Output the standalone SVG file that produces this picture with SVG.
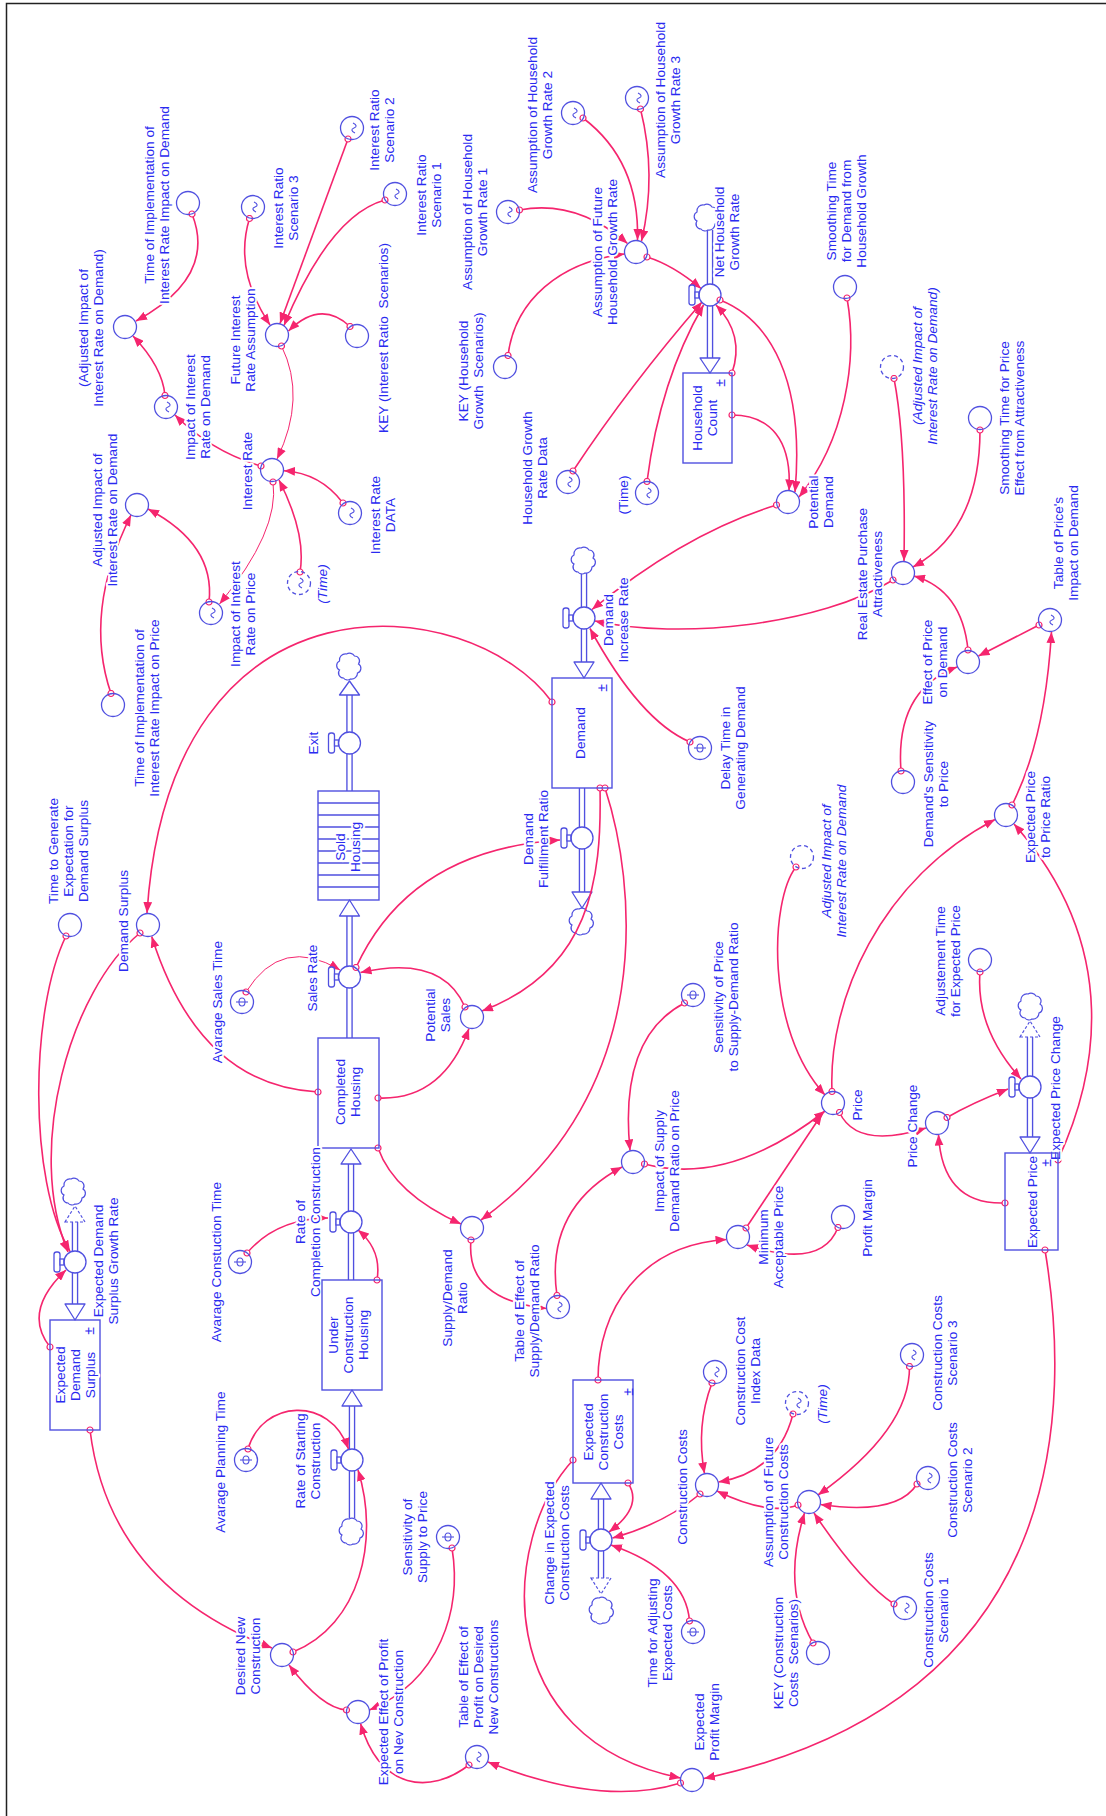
<svg xmlns="http://www.w3.org/2000/svg" xmlns:xlink="http://www.w3.org/1999/xlink" width="1106" height="1816" viewBox="0 0 1106 1816">
<style>
.c{fill:none;stroke:#f5256e;stroke-width:1.6;marker-start:url(#tl);marker-end:url(#ah)}
.th{stroke-width:1}
.n{fill:none;stroke:#5050e0;stroke-width:1.3}
.d{stroke-dasharray:4 3}
.s{fill:none;stroke:#5050e0;stroke-width:1.4}
.po{fill:none;stroke:#5050e0;stroke-width:6.5}
.pi{fill:none;stroke:#fff;stroke-width:3.8}
.fa{fill:#fff;stroke:#5050e0;stroke-width:1.3;stroke-linejoin:round}
.fd{fill:#fff;stroke:#5050e0;stroke-width:1.2;stroke-dasharray:3 2}
.cl{fill:#fff;stroke:#5050e0;stroke-width:1.2}
.ic{fill:none;stroke:#5050e0;stroke-width:1.1}
.hd{fill:#fff;stroke:#5050e0;stroke-width:1.3}
.t{font-family:"Liberation Sans",Arial,sans-serif;font-size:13.7px;fill:#2a2af0;text-anchor:middle;dominant-baseline:central;paint-order:stroke;stroke:#fff;stroke-width:4px;stroke-linejoin:round}
.i{font-style:italic}
.pm{font-family:"Liberation Sans",Arial,sans-serif;font-size:14px;fill:#2a2af0;text-anchor:middle;dominant-baseline:central}
</style>
<defs>
<marker id="ah" viewBox="0 0 10 8" refX="10" refY="4" markerWidth="11" markerHeight="9" markerUnits="userSpaceOnUse" orient="auto"><path d="M0,0L10,4L0,8z" fill="#f5256e"/></marker>
<marker id="tl" viewBox="-4 -4 8 8" refX="0" refY="0" markerWidth="8" markerHeight="8" markerUnits="userSpaceOnUse"><circle r="3" fill="#fff" stroke="#f5256e" stroke-width="1.2"/></marker>
<path id="cloud" d="M-6,12a5,5 0 0 1-4,-8a5,5 0 0 1 0,-9a6,6 0 0 1 7,-7a6,6 0 0 1 8,2a5,5 0 0 1 4,8a5,5 0 0 1-1,9a6,6 0 0 1-7,6a5,5 0 0 1-7,-1z"/>
<path id="lk" d="M1,5C-3,3 -3,1 0,0C3,-1 3,-3 -1,-5"/>
<g id="ph"><ellipse rx="3" ry="4"/><path d="M-6,0H6"/></g>
</defs>
<rect width="1106" height="1816" fill="#fff"/>
<path d="M6.5,1816V3.5H1106" fill="none" stroke="#222" stroke-width="1.5"/>

<g id="flows">
<path class="po" d="M710,230V284M710,306V358M349.5,695V732M349.5,754V791M349.5,916V966M349.5,988V1038M351,1164V1211M351,1233V1280M352,1406V1449M352,1471V1518M584,573V607M584,629V662M582,788V827M582,849V892M75,1222V1251M75,1273V1304M1030,1037V1076M1030,1098V1137M601,1499V1529M601,1551V1578"/>
<path class="pi" d="M710,230V284M710,306V358M349.5,695V732M349.5,754V791M349.5,916V966M349.5,988V1038M351,1164V1211M351,1233V1280M352,1406V1449M352,1471V1518M584,573V607M584,629V662M582,788V827M582,849V892M75,1222V1251M75,1273V1304M1030,1037V1076M1030,1098V1137M601,1499V1529M601,1551V1578"/>
<polygon class="fa" points="700,358 720,358 710,373"/>
<polygon class="fa" points="339.5,695 359.5,695 349.5,681"/>
<polygon class="fa" points="339.5,916 359.5,916 349.5,900"/>
<polygon class="fa" points="341,1164 361,1164 351,1149"/>
<polygon class="fa" points="342,1406 362,1406 352,1390"/>
<polygon class="fa" points="574,662 594,662 584,678"/>
<polygon class="fa" points="572,892 592,892 582,908"/>
<polygon class="fa" points="65,1304 85,1304 75,1320"/>
<polygon class="fd" points="65,1222 85,1222 75,1206"/>
<polygon class="fa" points="1020,1137 1040,1137 1030,1153"/>
<polygon class="fd" points="1020,1037 1040,1037 1030,1021"/>
<polygon class="fa" points="591,1499 611,1499 601,1483"/>
<polygon class="fd" points="591,1578 611,1578 601,1594"/>
<use href="#cloud" x="707" y="217" class="cl"/>
<use href="#cloud" x="349.5" y="666" class="cl"/>
<use href="#cloud" x="352" y="1531" class="cl"/>
<use href="#cloud" x="584" y="560" class="cl"/>
<use href="#cloud" x="582" y="921" class="cl"/>
<use href="#cloud" x="74" y="1191" class="cl"/>
<use href="#cloud" x="1031" y="1006" class="cl"/>
<use href="#cloud" x="602" y="1610" class="cl"/>
</g>

<g id="connectors">
<path class="c" d="M192,214 Q217,277 136,321"/>
<path class="c" d="M165,395.5 Q162.5,367 133,336"/>
<path class="c" d="M261,466 Q212,452 175,415"/>
<path class="c" d="M249.5,218.5 Q233.5,270 270,325"/>
<path class="c" d="M348,139 L280,323.5"/>
<path class="c" d="M385,200 Q330,215 284,325.5"/>
<path class="c" d="M350,326.5 Q320.75,299.25 288.5,331"/>
<path class="c th" d="M281.5,346 Q306.75,397.5 277,459"/>
<path class="c" d="M343,503 Q320.5,473 284,470.7"/>
<path class="c" d="M300,572 Q306.5,534 279,480"/>
<path class="c th" d="M273,482 Q279.75,531 219.5,604"/>
<path class="c" d="M209,602 Q215.5,544.5 148,509"/>
<path class="c" d="M111,693.5 Q83,611.75 131,515"/>
<path class="c" d="M552,702 C470,590 170,560 147,913"/>
<path class="c" d="M318,1092 Q199,1086 151.7,936.5"/>
<path class="c" d="M66,936 C30,1010 28,1180 70,1251.5"/>
<path class="c" d="M140,933 C70,990 25,1150 68,1252"/>
<path class="c" d="M50,1347 Q22,1311.5 66,1270"/>
<path class="c" d="M90,1430 Q109,1585 272,1648"/>
<path class="c th" d="M246,992 Q281.5,935 340,970"/>
<path class="c" d="M356,967.5 Q410,850 560,840"/>
<path class="c" d="M465,1007 Q442,954 360.5,972.5"/>
<path class="c" d="M600,788 C602,880 590,970 482,1011"/>
<path class="c" d="M378,1098 Q442.5,1100.75 469,1028.5"/>
<path class="c" d="M378,1148 Q394.5,1194 461,1224"/>
<path class="c" d="M605,788 C635,880 660,1090 481,1220"/>
<path class="c" d="M471,1240 Q465.25,1299.75 546.5,1308.5"/>
<path class="c" d="M557,1295.5 Q544.5,1208.75 622,1167"/>
<path class="c" d="M684.5,1003 Q618.75,1037.25 630,1150.5"/>
<path class="c" d="M644.5,1164 Q729.25,1186.5 825,1111"/>
<path class="c" d="M746,1228 L822,1114"/>
<path class="c" d="M838,1227.5 Q821.5,1269.75 747,1245"/>
<path class="c" d="M796,867 C770,900 765,1030 825,1095"/>
<path class="c" d="M832,1091.5 C828,1000 880,880 995,819.5"/>
<path class="c" d="M839.5,1112.5 Q857.25,1149.75 926,1128"/>
<path class="c" d="M1005,1203 Q942.25,1205.25 938.5,1134.5"/>
<path class="c" d="M947,1117.5 Q972,1103 1008,1089"/>
<path class="c" d="M980,972 Q975.5,1028.5 1021,1079"/>
<path class="c" d="M1058,1160 C1095,1080 1125,950 1014,824"/>
<path class="c" d="M1045,1250 C1070,1400 1075,1700 704,1778.5"/>
<path class="c" d="M573,1460 C500,1540 490,1740 680.5,1778"/>
<path class="c" d="M598,1380 C598,1310 640,1245 726.5,1239.5"/>
<path class="c" d="M628,1483 Q643.5,1506.5 609,1532"/>
<path class="c" d="M700,1494 Q663.75,1524 612.5,1538"/>
<path class="c" d="M689.5,1621 Q685.75,1571 611,1545"/>
<path class="c" d="M712,1383 Q695.75,1425.75 704.5,1473.5"/>
<path class="c" d="M793,1414 Q778.25,1472 718.5,1482"/>
<path class="c" d="M798,1505 Q768.5,1516 717,1491"/>
<path class="c" d="M909.5,1366.5 Q910.25,1429.25 818,1495"/>
<path class="c" d="M917,1484 Q897.25,1515.75 820.5,1504.5"/>
<path class="c" d="M894,1604 Q860,1581.5 814,1513"/>
<path class="c" d="M813,1643 Q781.25,1588 804.5,1513"/>
<path class="c" d="M680.5,1783 Q601.75,1807.5 488,1762"/>
<path class="c" d="M469,1765 C430,1795 380,1790 360.5,1723.5"/>
<path class="c" d="M452,1548 C462,1610 440,1680 369.5,1710"/>
<path class="c" d="M346.5,1710 Q322.25,1708.5 289,1665"/>
<path class="c" d="M293,1652 C360,1625 380,1540 358,1470"/>
<path class="c" d="M248,1449 C262,1400 330,1395 348.5,1449"/>
<path class="c" d="M247,1253 Q276.5,1218.5 328,1218"/>
<path class="c" d="M377,1280 Q382,1250 358,1230"/>
<path class="c" d="M519.5,210 Q576.5,199.25 627.5,243.5"/>
<path class="c" d="M508,355.5 C515,300 560,262 624.5,254"/>
<path class="c" d="M583,118 Q639.75,161 637.5,240"/>
<path class="c" d="M640.5,109 Q657,175 641.5,241"/>
<path class="c" d="M647,257 Q673,265 701,288.5"/>
<path class="c" d="M573,471 Q630,385 702,302"/>
<path class="c" d="M647,481.5 Q660,380 703.5,305"/>
<path class="c" d="M732,373 Q745,335 716,305"/>
<path class="c" d="M720,300 C770,320 805,380 795,492"/>
<path class="c" d="M732,415 C770,415 792,440 789,490.5"/>
<path class="c" d="M847,298 C858,360 845,440 799,497"/>
<path class="c" d="M776.5,505 Q685.75,532.75 592,609.5"/>
<path class="c" d="M893,580 C820,625 680,640 595,621"/>
<path class="c" d="M690,742 Q640,720.75 590,628.5"/>
<path class="c" d="M894,378.5 Q906,440 904,561"/>
<path class="c" d="M980,430 Q980,530 913,567"/>
<path class="c" d="M968,650 Q962,590 914,576"/>
<path class="c" d="M1039,625 L978.5,656"/>
<path class="c" d="M901,771 Q895,690 957,667"/>
<path class="c" d="M1012,805 Q1045,740 1051.5,632"/>
</g>

<g id="n-adj-ir-demand-p"><circle class="n" cx="125" cy="327" r="11.5"/><text class="t" transform="translate(90.5,328) rotate(-90)"><tspan x="0" y="-7.5">(Adjusted Impact of</tspan><tspan x="0" y="7.5">Interest Rate on Demand)</tspan></text></g>
<g id="n-time-impl-ir-demand"><circle class="n" cx="188" cy="203" r="11.5"/><text class="t" transform="translate(156,205) rotate(-90)"><tspan x="0" y="-7.5">Time of Implementation of</tspan><tspan x="0" y="7.5">Interest Rate Impact on Demand</tspan></text></g>
<g id="n-impact-ir-demand"><circle class="n" cx="166" cy="407" r="11.5"/><use href="#lk" x="168" y="407" class="ic"/><text class="t" transform="translate(197.5,407) rotate(-90)"><tspan x="0" y="-7.5">Impact of Interest</tspan><tspan x="0" y="7.5">Rate on Demand</tspan></text></g>
<g id="n-future-ir"><circle class="n" cx="277" cy="335" r="11.5"/><text class="t" transform="translate(242.5,340) rotate(-90)"><tspan x="0" y="-7.5">Future Interest</tspan><tspan x="0" y="7.5">Rate Assumption</tspan></text></g>
<g id="n-ir-scenario-3"><circle class="n" cx="253" cy="207" r="11.5"/><use href="#lk" x="255" y="207" class="ic"/><text class="t" transform="translate(285.5,208) rotate(-90)"><tspan x="0" y="-7.5">Interest Ratio</tspan><tspan x="0" y="7.5">Scenario 3</tspan></text></g>
<g id="n-ir-scenario-2"><circle class="n" cx="352" cy="128" r="11.5"/><use href="#lk" x="354" y="128" class="ic"/><text class="t" transform="translate(381.5,130) rotate(-90)"><tspan x="0" y="-7.5">Interest Ratio</tspan><tspan x="0" y="7.5">Scenario 2</tspan></text></g>
<g id="n-ir-scenario-1"><circle class="n" cx="395" cy="194" r="11.5"/><use href="#lk" x="397" y="194" class="ic"/><text class="t" transform="translate(428.5,195) rotate(-90)"><tspan x="0" y="-7.5">Interest Ratio</tspan><tspan x="0" y="7.5">Scenario 1</tspan></text></g>
<g id="n-key-ir"><circle class="n" cx="357" cy="336" r="11.5"/><text class="t" transform="translate(383,338) rotate(-90)"><tspan x="0" y="0">KEY (Interest Ratio&#160; Scenarios)</tspan></text></g>
<g id="n-interest-rate"><circle class="n" cx="272" cy="470" r="11.5"/><text class="t" transform="translate(247,471) rotate(-90)"><tspan x="0" y="0">Interest Rate</tspan></text></g>
<g id="n-ir-data"><circle class="n" cx="350" cy="513" r="11.5"/><use href="#lk" x="352" y="513" class="ic"/><text class="t" transform="translate(382.5,515) rotate(-90)"><tspan x="0" y="-7.5">Interest Rate</tspan><tspan x="0" y="7.5">DATA</tspan></text></g>
<g id="n-time-a"><circle class="n d" cx="299" cy="583" r="11.5"/><use href="#lk" x="301" y="583" class="ic"/><text class="t i" transform="translate(322,584) rotate(-90)"><tspan x="0" y="0">(Time)</tspan></text></g>
<g id="n-impact-ir-price"><circle class="n" cx="211" cy="613" r="11.5"/><use href="#lk" x="213" y="613" class="ic"/><text class="t" transform="translate(242,614) rotate(-90)"><tspan x="0" y="-7.5">Impact of Interest</tspan><tspan x="0" y="7.5">Rate on Price</tspan></text></g>
<g id="n-adj-ir-demand"><circle class="n" cx="137" cy="505" r="11.5"/><text class="t" transform="translate(104.5,510) rotate(-90)"><tspan x="0" y="-7.5">Adjusted Impact of</tspan><tspan x="0" y="7.5">Interest Rate on Demand</tspan></text></g>
<g id="n-time-impl-ir-price"><circle class="n" cx="113" cy="705" r="11.5"/><text class="t" transform="translate(146.5,708) rotate(-90)"><tspan x="0" y="-7.5">Time of Implementation of</tspan><tspan x="0" y="7.5">Interest Rate Impact on Price</tspan></text></g>
<g id="n-hh-gr-1"><circle class="n" cx="508" cy="212" r="11.5"/><use href="#lk" x="510" y="212" class="ic"/><text class="t" transform="translate(474.5,212) rotate(-90)"><tspan x="0" y="-7.5">Assumption of Household</tspan><tspan x="0" y="7.5">Growth Rate 1</tspan></text></g>
<g id="n-hh-gr-2"><circle class="n" cx="573" cy="113" r="11.5"/><use href="#lk" x="575" y="113" class="ic"/><text class="t" transform="translate(539.5,115) rotate(-90)"><tspan x="0" y="-7.5">Assumption of Household</tspan><tspan x="0" y="7.5">Growth Rate 2</tspan></text></g>
<g id="n-hh-gr-3"><circle class="n" cx="637" cy="98" r="11.5"/><use href="#lk" x="639" y="98" class="ic"/><text class="t" transform="translate(667.5,100) rotate(-90)"><tspan x="0" y="-7.5">Assumption of Household</tspan><tspan x="0" y="7.5">Growth Rate 3</tspan></text></g>
<g id="n-future-hh-gr"><circle class="n" cx="636" cy="252" r="11.5"/><text class="t" transform="translate(604.5,252) rotate(-90)"><tspan x="0" y="-7.5">Assumption of Future</tspan><tspan x="0" y="7.5">Household Growth Rate</tspan></text></g>
<g id="n-key-hh"><circle class="n" cx="505" cy="367" r="11.5"/><text class="t" transform="translate(470.5,371) rotate(-90)"><tspan x="0" y="-7.5">KEY (Household</tspan><tspan x="0" y="7.5">Growth&#160; Scenarios)</tspan></text></g>
<g id="v-net-household-growth-rate"><rect class="hd" x="689" y="285" width="6" height="20" rx="2.5"/><rect class="hd" x="695" y="292" width="4" height="6"/><circle class="n" cx="710" cy="295" r="11"/><text class="t" transform="translate(726,232) rotate(-90)"><tspan x="0" y="-7.5">Net Household</tspan><tspan x="0" y="7.5">Growth Rate</tspan></text></g>
<g id="s-household-count"><rect class="s" x="683" y="373" width="49" height="90"/><text class="t" transform="translate(704.5,418) rotate(-90)"><tspan x="0" y="-7.5">Household</tspan><tspan x="0" y="7.5">Count</tspan></text><text class="pm" transform="translate(720,383) rotate(-90)">±</text></g>
<g id="n-smoothing-demand"><circle class="n" cx="845" cy="287" r="11.5"/><text class="t" transform="translate(845.5,211) rotate(-90)"><tspan x="0" y="-15">Smoothing Time</tspan><tspan x="0" y="0">for Demand from</tspan><tspan x="0" y="15">Household Growth</tspan></text></g>
<g id="n-adj-shadow-1"><circle class="n d" cx="892" cy="367" r="11.5"/><text class="t i" transform="translate(924.5,366) rotate(-90)"><tspan x="0" y="-7.5">(Adjusted Impact of</tspan><tspan x="0" y="7.5">Interest Rate on Demand)</tspan></text></g>
<g id="n-smoothing-price"><circle class="n" cx="980" cy="418" r="11.5"/><text class="t" transform="translate(1011.5,418) rotate(-90)"><tspan x="0" y="-7.5">Smoothing Time for Price</tspan><tspan x="0" y="7.5">Effect from Attractiveness</tspan></text></g>
<g id="n-hh-gr-data"><circle class="n" cx="568" cy="482" r="11.5"/><use href="#lk" x="570" y="482" class="ic"/><text class="t" transform="translate(534.5,468) rotate(-90)"><tspan x="0" y="-7.5">Household Growth</tspan><tspan x="0" y="7.5">Rate Data</tspan></text></g>
<g id="n-time-b"><circle class="n" cx="647" cy="493" r="11.5"/><use href="#lk" x="649" y="493" class="ic"/><text class="t" transform="translate(623,495) rotate(-90)"><tspan x="0" y="0">(Time)</tspan></text></g>
<g id="v-demand-increase-rate"><rect class="hd" x="563" y="608" width="6" height="20" rx="2.5"/><rect class="hd" x="569" y="615" width="4" height="6"/><circle class="n" cx="584" cy="618" r="11"/><text class="t" transform="translate(615.5,620) rotate(-90)"><tspan x="0" y="-7.5">Demand</tspan><tspan x="0" y="7.5">Increase Rate</tspan></text></g>
<g id="s-demand"><rect class="s" x="552" y="678" width="60" height="110"/><text class="t" transform="translate(580,733) rotate(-90)"><tspan x="0" y="0">Demand</tspan></text><text class="pm" transform="translate(602,688) rotate(-90)">±</text></g>
<g id="n-delay-time"><circle class="n" cx="700" cy="748" r="11.5"/><use href="#ph" x="700" y="748" class="ic"/><text class="t" transform="translate(732.5,748) rotate(-90)"><tspan x="0" y="-7.5">Delay Time in</tspan><tspan x="0" y="7.5">Generating Demand</tspan></text></g>
<g id="v-demand-fulfillment-ratio"><rect class="hd" x="561" y="828" width="6" height="20" rx="2.5"/><rect class="hd" x="567" y="835" width="4" height="6"/><circle class="n" cx="582" cy="838" r="11"/><text class="t" transform="translate(535.5,839) rotate(-90)"><tspan x="0" y="-7.5">Demand</tspan><tspan x="0" y="7.5">Fulfillment Ratio</tspan></text></g>
<g id="s-sold-housing"><rect class="s" x="318" y="791" width="61" height="109"/><path class="s" d="M318,803H379M318,815H379M318,827H379M318,839H379M318,851H379M318,863H379M318,875H379M318,887H379"/><text class="t" transform="translate(347.5,847) rotate(-90)"><tspan x="0" y="-7.5">Sold</tspan><tspan x="0" y="7.5">Housing</tspan></text></g>
<g id="v-exit"><rect class="hd" x="328.5" y="733" width="6" height="20" rx="2.5"/><rect class="hd" x="334.5" y="740" width="4" height="6"/><circle class="n" cx="349.5" cy="743" r="11"/><text class="t" transform="translate(313,743) rotate(-90)"><tspan x="0" y="0">Exit</tspan></text></g>
<g id="n-potential-demand"><circle class="n" cx="788" cy="502" r="11.5"/><text class="t" transform="translate(820.5,502) rotate(-90)"><tspan x="0" y="-7.5">Potential</tspan><tspan x="0" y="7.5">Demand</tspan></text></g>
<g id="n-repa"><circle class="n" cx="903" cy="573" r="11.5"/><text class="t" transform="translate(869.5,574) rotate(-90)"><tspan x="0" y="-7.5">Real Estate Purchase</tspan><tspan x="0" y="7.5">Attractiveness</tspan></text></g>
<g id="n-effect-price-demand"><circle class="n" cx="968" cy="662" r="11.5"/><text class="t" transform="translate(934.5,662) rotate(-90)"><tspan x="0" y="-7.5">Effect of Price</tspan><tspan x="0" y="7.5">on Demand</tspan></text></g>
<g id="n-table-price-impact"><circle class="n" cx="1050" cy="620" r="11.5"/><use href="#lk" x="1052" y="620" class="ic"/><text class="t" transform="translate(1065.5,543) rotate(-90)"><tspan x="0" y="-7.5">Table of Price's</tspan><tspan x="0" y="7.5">Impact on Demand</tspan></text></g>
<g id="n-demand-sensitivity"><circle class="n" cx="903" cy="782" r="11.5"/><text class="t" transform="translate(935,784) rotate(-90)"><tspan x="0" y="-7.5">Demand's Sensitivity</tspan><tspan x="0" y="7.5">to Price</tspan></text></g>
<g id="n-ep-price-ratio"><circle class="n" cx="1006" cy="815" r="11.5"/><text class="t" transform="translate(1037.5,817) rotate(-90)"><tspan x="0" y="-7.5">Expected Price</tspan><tspan x="0" y="7.5">to Price Ratio</tspan></text></g>
<g id="n-adj-shadow-2"><circle class="n d" cx="802" cy="857" r="11.5"/><text class="t i" transform="translate(833.5,861) rotate(-90)"><tspan x="0" y="-7.5">Adjusted Impact of</tspan><tspan x="0" y="7.5">Interest Rate on Demand</tspan></text></g>
<g id="n-time-gen-expectation"><circle class="n" cx="70" cy="925" r="11.5"/><text class="t" transform="translate(68,851) rotate(-90)"><tspan x="0" y="-15">Time to Generate</tspan><tspan x="0" y="0">Expectation for</tspan><tspan x="0" y="15">Demand Surplus</tspan></text></g>
<g id="n-demand-surplus"><circle class="n" cx="148" cy="925" r="11.5"/><text class="t" transform="translate(123,921) rotate(-90)"><tspan x="0" y="0">Demand Surplus</tspan></text></g>
<g id="n-avg-sales-time"><circle class="n" cx="242" cy="1002" r="11.5"/><use href="#ph" x="242" y="1002" class="ic"/><text class="t" transform="translate(217,1002) rotate(-90)"><tspan x="0" y="0">Avarage Sales Time</tspan></text></g>
<g id="v-sales-rate"><rect class="hd" x="328.5" y="967" width="6" height="20" rx="2.5"/><rect class="hd" x="334.5" y="974" width="4" height="6"/><circle class="n" cx="349.5" cy="977" r="11"/><text class="t" transform="translate(312,978) rotate(-90)"><tspan x="0" y="0">Sales Rate</tspan></text></g>
<g id="s-completed-housing"><rect class="s" x="318" y="1038" width="61" height="110"/><text class="t" transform="translate(347.5,1092) rotate(-90)"><tspan x="0" y="-7.5">Completed</tspan><tspan x="0" y="7.5">Housing</tspan></text></g>
<g id="n-potential-sales"><circle class="n" cx="472" cy="1017" r="11.5"/><text class="t" transform="translate(437.5,1015) rotate(-90)"><tspan x="0" y="-7.5">Potential</tspan><tspan x="0" y="7.5">Sales</tspan></text></g>
<g id="v-rate-completion"><rect class="hd" x="330" y="1212" width="6" height="20" rx="2.5"/><rect class="hd" x="336" y="1219" width="4" height="6"/><circle class="n" cx="351" cy="1222" r="11"/><text class="t" transform="translate(307.5,1222) rotate(-90)"><tspan x="0" y="-7.5">Rate of</tspan><tspan x="0" y="7.5">Completion Construction</tspan></text></g>
<g id="n-avg-construction-time"><circle class="n" cx="240" cy="1262" r="11.5"/><use href="#ph" x="240" y="1262" class="ic"/><text class="t" transform="translate(216,1262) rotate(-90)"><tspan x="0" y="0">Avarage Constuction Time</tspan></text></g>
<g id="s-under-construction"><rect class="s" x="322" y="1280" width="60" height="110"/><text class="t" transform="translate(348,1335) rotate(-90)"><tspan x="0" y="-15">Under</tspan><tspan x="0" y="0">Construction</tspan><tspan x="0" y="15">Housing</tspan></text></g>
<g id="v-eds-growth-rate"><rect class="hd" x="54" y="1252" width="6" height="20" rx="2.5"/><rect class="hd" x="60" y="1259" width="4" height="6"/><circle class="n" cx="75" cy="1262" r="11"/><text class="t" transform="translate(105.5,1261) rotate(-90)"><tspan x="0" y="-7.5">Expected Demand</tspan><tspan x="0" y="7.5">Surplus Growth Rate</tspan></text></g>
<g id="s-expected-demand-surplus"><rect class="s" x="50" y="1320" width="50" height="110"/><text class="t" transform="translate(75,1375) rotate(-90)"><tspan x="0" y="-15">Expected</tspan><tspan x="0" y="0">Demand</tspan><tspan x="0" y="15">Surplus</tspan></text><text class="pm" transform="translate(89,1331) rotate(-90)">±</text></g>
<g id="n-supply-demand-ratio"><circle class="n" cx="472" cy="1228" r="11.5"/><text class="t" transform="translate(454,1298) rotate(-90)"><tspan x="0" y="-7.5">Supply/Demand</tspan><tspan x="0" y="7.5">Ratio</tspan></text></g>
<g id="n-table-sd-ratio"><circle class="n" cx="558" cy="1307" r="11.5"/><use href="#lk" x="560" y="1307" class="ic"/><text class="t" transform="translate(526.5,1311) rotate(-90)"><tspan x="0" y="-7.5">Table of Effect of</tspan><tspan x="0" y="7.5">Supply/Demand Ratio</tspan></text></g>
<g id="n-impact-supply-demand"><circle class="n" cx="633" cy="1162" r="11.5"/><text class="t" transform="translate(666.5,1161) rotate(-90)"><tspan x="0" y="-7.5">Impact of Supply</tspan><tspan x="0" y="7.5">Demand Ratio on Price</tspan></text></g>
<g id="n-sens-price-sd"><circle class="n" cx="693" cy="995" r="11.5"/><use href="#ph" x="693" y="995" class="ic"/><text class="t" transform="translate(725,997) rotate(-90)"><tspan x="0" y="-7.5">Sensitivity of Price</tspan><tspan x="0" y="7.5">to Supply-Demand Ratio</tspan></text></g>
<g id="n-price"><circle class="n" cx="833" cy="1103" r="11.5"/><text class="t" transform="translate(857,1105) rotate(-90)"><tspan x="0" y="0">Price</tspan></text></g>
<g id="n-price-change"><circle class="n" cx="937" cy="1123" r="11.5"/><text class="t" transform="translate(912,1126) rotate(-90)"><tspan x="0" y="0">Price Change</tspan></text></g>
<g id="n-adjustment-time"><circle class="n" cx="980" cy="960" r="11.5"/><text class="t" transform="translate(947.5,961) rotate(-90)"><tspan x="0" y="-7.5">Adjustement Time</tspan><tspan x="0" y="7.5">for Expected Price</tspan></text></g>
<g id="v-expected-price-change"><rect class="hd" x="1009" y="1077" width="6" height="20" rx="2.5"/><rect class="hd" x="1015" y="1084" width="4" height="6"/><circle class="n" cx="1030" cy="1087" r="11"/><text class="t" transform="translate(1055,1088) rotate(-90)"><tspan x="0" y="0">Expected Price Change</tspan></text></g>
<g id="s-expected-price"><rect class="s" x="1005" y="1153" width="53" height="97"/><text class="t" transform="translate(1032,1202) rotate(-90)"><tspan x="0" y="0">Expected Price</tspan></text><text class="pm" transform="translate(1046,1163) rotate(-90)">±</text></g>
<g id="n-min-acceptable-price"><circle class="n" cx="738" cy="1237" r="11.5"/><text class="t" transform="translate(770.5,1237) rotate(-90)"><tspan x="0" y="-7.5">Minimum</tspan><tspan x="0" y="7.5">Acceptable Price</tspan></text></g>
<g id="n-profit-margin"><circle class="n" cx="843" cy="1217" r="11.5"/><text class="t" transform="translate(867,1218) rotate(-90)"><tspan x="0" y="0">Profit Margin</tspan></text></g>
<g id="n-avg-planning-time"><circle class="n" cx="246" cy="1460" r="11.5"/><use href="#ph" x="246" y="1460" class="ic"/><text class="t" transform="translate(220,1462) rotate(-90)"><tspan x="0" y="0">Avarage Planning Time</tspan></text></g>
<g id="v-rate-starting"><rect class="hd" x="331" y="1450" width="6" height="20" rx="2.5"/><rect class="hd" x="337" y="1457" width="4" height="6"/><circle class="n" cx="352" cy="1460" r="11"/><text class="t" transform="translate(307.5,1461) rotate(-90)"><tspan x="0" y="-7.5">Rate of Starting</tspan><tspan x="0" y="7.5">Construction</tspan></text></g>
<g id="n-desired-new-construction"><circle class="n" cx="282" cy="1655" r="11.5"/><text class="t" transform="translate(247.5,1656) rotate(-90)"><tspan x="0" y="-7.5">Desired New</tspan><tspan x="0" y="7.5">Construction</tspan></text></g>
<g id="n-expected-effect-profit"><circle class="n" cx="358" cy="1712" r="11.5"/><text class="t" transform="translate(390.5,1712) rotate(-90)"><tspan x="0" y="-7.5">Expected Effect of Profit</tspan><tspan x="0" y="7.5">on Nev Construction</tspan></text></g>
<g id="n-sens-supply-price"><circle class="n" cx="448" cy="1537" r="11.5"/><use href="#ph" x="448" y="1537" class="ic"/><text class="t" transform="translate(414.5,1537) rotate(-90)"><tspan x="0" y="-7.5">Sensitivity of</tspan><tspan x="0" y="7.5">Supply to Price</tspan></text></g>
<g id="n-table-profit"><circle class="n" cx="477" cy="1757" r="11.5"/><use href="#lk" x="479" y="1757" class="ic"/><text class="t" transform="translate(477.5,1677) rotate(-90)"><tspan x="0" y="-15">Table of Effect of</tspan><tspan x="0" y="0">Profit on Desired</tspan><tspan x="0" y="15">New Constructions</tspan></text></g>
<g id="s-expected-construction-costs"><rect class="s" x="573" y="1380" width="60" height="103"/><text class="t" transform="translate(603,1432) rotate(-90)"><tspan x="0" y="-15">Expected</tspan><tspan x="0" y="0">Construction</tspan><tspan x="0" y="15">Costs</tspan></text><text class="pm" transform="translate(628,1392) rotate(-90)">±</text></g>
<g id="v-change-ecc"><rect class="hd" x="580" y="1530" width="6" height="20" rx="2.5"/><rect class="hd" x="586" y="1537" width="4" height="6"/><circle class="n" cx="601" cy="1540" r="11"/><text class="t" transform="translate(556.5,1543) rotate(-90)"><tspan x="0" y="-7.5">Change in Expected</tspan><tspan x="0" y="7.5">Construction Costs</tspan></text></g>
<g id="n-time-adjusting-costs"><circle class="n" cx="693" cy="1632" r="11.5"/><use href="#ph" x="693" y="1632" class="ic"/><text class="t" transform="translate(659.5,1633) rotate(-90)"><tspan x="0" y="-7.5">Time for Adjusting</tspan><tspan x="0" y="7.5">Expected Costs</tspan></text></g>
<g id="n-construction-costs"><circle class="n" cx="707" cy="1485" r="11.5"/><text class="t" transform="translate(682,1487) rotate(-90)"><tspan x="0" y="0">Construction Costs</tspan></text></g>
<g id="n-cc-index-data"><circle class="n" cx="715" cy="1372" r="11.5"/><use href="#lk" x="717" y="1372" class="ic"/><text class="t" transform="translate(747.5,1371) rotate(-90)"><tspan x="0" y="-7.5">Construction Cost</tspan><tspan x="0" y="7.5">Index Data</tspan></text></g>
<g id="n-time-c"><circle class="n d" cx="797" cy="1403" r="11.5"/><use href="#lk" x="799" y="1403" class="ic"/><text class="t i" transform="translate(822,1404) rotate(-90)"><tspan x="0" y="0">(Time)</tspan></text></g>
<g id="n-cc-scenario-3"><circle class="n" cx="912" cy="1355" r="11.5"/><use href="#lk" x="914" y="1355" class="ic"/><text class="t" transform="translate(944.5,1353) rotate(-90)"><tspan x="0" y="-7.5">Construction Costs</tspan><tspan x="0" y="7.5">Scenario 3</tspan></text></g>
<g id="n-cc-scenario-2"><circle class="n" cx="928" cy="1478" r="11.5"/><use href="#lk" x="930" y="1478" class="ic"/><text class="t" transform="translate(959.5,1480) rotate(-90)"><tspan x="0" y="-7.5">Construction Costs</tspan><tspan x="0" y="7.5">Scenario 2</tspan></text></g>
<g id="n-cc-scenario-1"><circle class="n" cx="905" cy="1608" r="11.5"/><use href="#lk" x="907" y="1608" class="ic"/><text class="t" transform="translate(935.5,1610) rotate(-90)"><tspan x="0" y="-7.5">Construction Costs</tspan><tspan x="0" y="7.5">Scenario 1</tspan></text></g>
<g id="n-key-cc"><circle class="n" cx="818" cy="1653" r="11.5"/><text class="t" transform="translate(785.5,1653) rotate(-90)"><tspan x="0" y="-7.5">KEY (Construction</tspan><tspan x="0" y="7.5">Costs&#160; Scenarios)</tspan></text></g>
<g id="n-assumption-future-cc"><circle class="n" cx="809" cy="1502" r="11.5"/><text class="t" transform="translate(775,1502) rotate(-90)"><tspan x="0" y="-7.5">Assumption of Future</tspan><tspan x="0" y="7.5">Construction Costs</tspan></text></g>
<g id="n-expected-profit-margin"><circle class="n" cx="692" cy="1780" r="11.5"/><text class="t" transform="translate(706.5,1722) rotate(-90)"><tspan x="0" y="-7.5">Expected</tspan><tspan x="0" y="7.5">Profit Margin</tspan></text></g>
</svg>
